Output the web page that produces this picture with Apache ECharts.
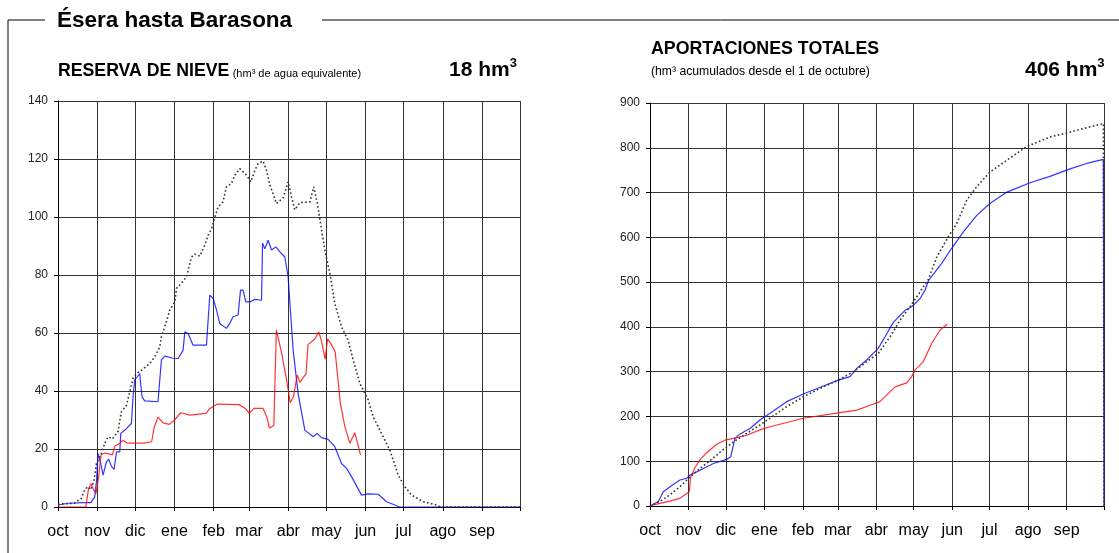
<!DOCTYPE html>
<html>
<head>
<meta charset="utf-8">
<script src="https://cdn.jsdelivr.net/npm/echarts@6/dist/echarts.min.js"></script>
<style>
html,body{margin:0;padding:0;background:#fff;}
#c{width:1119px;height:553px;}
</style>
</head>
<body>
<div id="c"></div>
<script>
// Month labels and month-start day offsets (day 0 = 1 October)
var months = ['oct','nov','dic','ene','feb','mar','abr','may','jun','jul','ago','sep'];
var monthStarts = [0,31,61,92,123,151,182,212,243,273,304,335,365];

// RESERVA DE NIEVE (hm3) : [day, value]
var snowCurrent = [[0,0],[22,0],[24,6],[26,8],[28,6],[30,4.7],[32,10],[34,18],[37,18.6],[43,18],[45,21],[49,22],[51,23],[55,22],[61,22],[68,22],[74,22.5],[76,27.5],[79,31],[83,29],[88,28.5],[92,30],[97,32.5],[104,31.7],[117,32.3],[120,34],[126,35.5],[143,35.3],[148,34],[151,32.3],[155,34],[162,34],[165,31],[167,27.3],[170.5,28],[172.5,61],[176.5,53.5],[180.5,44],[183.5,36],[186,38],[189,45.5],[191,43],[196,46],[197.5,56],[203,58],[206,60.4],[208,57.5],[211,51],[213,58],[216,56],[219,53.5],[223,36],[226.5,28],[230.5,22],[234.5,25.6],[239,18]];
var snowPrevious = [[0,0.7],[8,1.3],[21,1.5],[26,1.5],[29,3.5],[30.5,9.3],[31.6,18.5],[33.8,15],[35.6,11],[38.3,15.6],[40,16.5],[42.2,14],[44.3,13],[46.2,19],[48.8,19],[49.6,25.4],[54,27],[58,28.8],[59.3,38],[60.6,43.8],[62.8,45],[64.6,46],[65.4,42],[66.4,38],[68.5,36.6],[79,36.3],[81.7,50.7],[84.3,52],[90.9,51.3],[94.9,51.2],[98.8,54],[100.2,60.4],[102.8,59.8],[106.7,55.8],[117.3,55.8],[119.9,73],[122.5,72],[125.2,68],[127.8,63.3],[133.1,61.6],[135.7,63.3],[138.3,65.6],[142.3,66.2],[144.2,74.8],[146.2,74.8],[148.4,70.7],[151.5,70.7],[155.5,71.6],[160.8,71.3],[161.6,91],[163.4,89],[166,92],[168.7,88.6],[172.1,89.7],[175.3,88],[179.2,86.2],[181.8,79.4],[185.8,54],[189.7,39.2],[195,26.5],[201.6,24.2],[204.7,25.4],[208.2,23.9],[213.4,23.3],[218.7,20.8],[224,15],[228,13.3],[232,10.4],[239.8,4.1],[245,4.5],[253,4.4],[259.6,1.8],[270,0],[365,0]];
var snowAverage = [[0,1],[13,1.3],[18.5,3],[21,5.9],[23.7,7],[26,6],[28.5,9.3],[30.4,15],[34.3,18.5],[37,22],[39.5,24.2],[43,23.5],[47.4,26],[50,32.8],[54,35],[59.3,44.3],[62,46],[66,47.2],[72.5,49.5],[76.4,51.8],[80.4,55.2],[81.7,58.7],[85,63],[88.3,67.9],[92.3,70.7],[93.6,75.4],[97.5,77.1],[101.5,79.4],[105.5,86.2],[108,87.2],[112,86.5],[116,90.3],[118.6,93.7],[121.3,96],[124,100],[126.5,103.5],[130.4,105.2],[133,110.4],[137,111.5],[139.7,114.4],[143.6,116.7],[149,114.4],[152.3,112.1],[155.5,116.1],[158.1,118.4],[162,119.3],[164.7,116.1],[167.4,111],[172.6,104.6],[178,106.7],[181.8,112.1],[184.5,107],[187.1,102.5],[191.1,105],[199,105.2],[202,110.4],[204.7,105.2],[207,98.9],[210.8,88.6],[214.8,80.5],[218.7,70.2],[224,62.1],[229.2,57.5],[233.2,50.7],[238.5,42.6],[245,37],[249,31.1],[255.6,25.4],[262.2,19.6],[268.8,11],[274,7],[279.4,4.1],[288.5,1.8],[299,0.7],[302,0],[365,0]];

// APORTACIONES TOTALES (hm3 acumulados) : [day, value]
var flowCurrent = [[0,0],[8,6],[16,11],[24,17],[29.5,28],[31.6,32],[32.7,65],[36.2,86],[40.2,103],[45.6,119],[53.6,138],[60.3,147],[67,151],[77.7,158],[88.4,170],[96.5,177],[123.3,196],[151.4,208],[166.2,214],[176.9,225],[184.9,233],[197,266],[206.4,275],[210.4,289],[213.1,304],[219.7,322],[226.4,363],[233.2,393],[239,406]];
var flowPrevious = [[0,0],[6.7,10],[10.7,32],[16.1,43],[24.1,58],[29.5,62],[32.2,69],[40.2,80],[50.9,95],[61.7,104],[64.9,110],[68.3,151],[72.4,161],[80.4,173],[88.4,192],[96.5,207],[109.9,233],[123.3,250],[139.3,268],[151.4,281],[160.8,289],[166.2,307],[174.2,326],[183.5,352],[189,378],[195.6,410],[205,437],[210.4,445],[217.1,463],[221.1,482],[224,504],[234.5,542],[242.4,575],[251.9,612],[262.7,649],[273,675],[287,701],[305.5,722],[321.6,736],[337.7,753],[351.1,765],[364.5,774],[365,0]];
var flowAverage = [[0,0],[8,10],[16.1,25],[24.1,43],[32.2,65],[40.2,84],[48.2,101],[58.9,126],[67,143],[77.7,162],[88.4,181],[96.5,196],[109.9,222],[123.3,244],[139.3,266],[151.4,281],[163.5,300],[183.5,341],[193,378],[201,415],[209,445],[217.1,478],[223.8,506],[230.5,556],[239.8,601],[246.6,631],[254.6,683],[262.7,713],[273.4,746],[286.8,772],[302.9,803],[321.6,824],[337.7,835],[351.1,845],[364.5,854],[365,0]];

var FONT = '"Liberation Sans", Arial, sans-serif';
var GRIDC = '#333';

function xAxisDef(gridIndex){
  return {
    type:'value', gridIndex:gridIndex, min:0, max:365,
    axisLine:{show:true, onZero:false, lineStyle:{color:'#000', width:1}},
    axisTick:{show:true, length:4, customValues:monthStarts, lineStyle:{color:'#000'}},
    axisLabel:{customValues:monthStarts.slice(0,12), margin:17, color:'#000', fontSize:16, fontFamily:FONT,
      formatter:function(v){ var i = monthStarts.indexOf(Math.round(v)); return i>=0 && i<12 ? months[i] : ''; }},
    splitLine:{show:true, lineStyle:{color:GRIDC, width:1}}
  };
}
function yAxisDef(gridIndex, max, interval){
  return {
    type:'value', gridIndex:gridIndex, min:0, max:max, interval:interval,
    axisLine:{show:true, lineStyle:{color:'#000', width:1}},
    axisTick:{show:true, length:4, lineStyle:{color:'#000'}},
    axisLabel:{margin:10, color:'#222', fontSize:12, fontFamily:FONT},
    splitLine:{show:true, lineStyle:{color:GRIDC, width:1}}
  };
}
function line(name, data, xi, color, dotted){
  return {
    name:name, type:'line', xAxisIndex:xi, yAxisIndex:xi, data:data, showSymbol:false, symbol:'none',
    animation:false, silent:true, z: dotted ? 3 : 2,
    lineStyle: dotted ? {color:'#333', width:1.6, type:[1.6,2.4]} : {color:color, width:1.2, opacity:0.8}
  };
}

var chart = echarts.init(document.getElementById('c'), null, {renderer:'canvas'});
chart.setOption({
  backgroundColor:'#fff',
  animation:false,
  textStyle:{fontFamily:FONT},
  grid:[
    {left:58, top:101, width:462, height:406},
    {left:650, top:103, width:454, height:403}
  ],
  xAxis:[xAxisDef(0), xAxisDef(1)],
  yAxis:[yAxisDef(0,140,20), yAxisDef(1,900,100)],
  series:[
    line('media', snowAverage, 0, '#000', true),
    line('año anterior', snowPrevious, 0, '#0000ff', false),
    line('año actual', snowCurrent, 0, '#ff0000', false),
    line('media', flowAverage, 1, '#000', true),
    line('año anterior', flowPrevious, 1, '#0000ff', false),
    line('año actual', flowCurrent, 1, '#ff0000', false)
  ],
  graphic:[
    {type:'polyline', shape:{points:[[45,20],[8,20],[8,553]]}, style:{stroke:'#000', lineWidth:1, fill:null}, silent:true},
    {type:'line', shape:{x1:322,y1:20,x2:1119,y2:20}, style:{stroke:'#000', lineWidth:1}, silent:true},
    {type:'text', left:57, top:9, style:{text:'Ésera hasta Barasona', font:'bold 22.5px '+FONT, fill:'#000'}},
    {type:'text', left:58, top:62, style:{
      text:'{a|RESERVA DE NIEVE} {b|(hm³ de agua equivalente)}',
      rich:{a:{font:'bold 17.7px '+FONT, fill:'#000', color:'#000', verticalAlign:'bottom'},
            b:{font:'11px '+FONT, fill:'#000', color:'#000', verticalAlign:'bottom', padding:[0,0,1,0]}}}},
    {type:'text', left:449, top:57, style:{
      text:'{a|18 hm}{s|3}',
      rich:{a:{font:'bold 21px '+FONT, fill:'#000', color:'#000', lineHeight:24, verticalAlign:'bottom'},
            s:{font:'bold 13px '+FONT, fill:'#000', color:'#000', verticalAlign:'top'}}}},
    {type:'text', left:651, top:40, style:{text:'APORTACIONES TOTALES', font:'bold 17.8px '+FONT, fill:'#000'}},
    {type:'text', left:651, top:66, style:{text:'(hm³ acumulados desde el 1 de octubre)', font:'12.2px '+FONT, fill:'#000'}},
    {type:'text', left:1025, top:57, style:{
      text:'{a|406 hm}{s|3}',
      rich:{a:{font:'bold 21px '+FONT, fill:'#000', color:'#000', lineHeight:24, verticalAlign:'bottom'},
            s:{font:'bold 13px '+FONT, fill:'#000', color:'#000', verticalAlign:'top'}}}}
  ]
});
</script>
</body>
</html>
